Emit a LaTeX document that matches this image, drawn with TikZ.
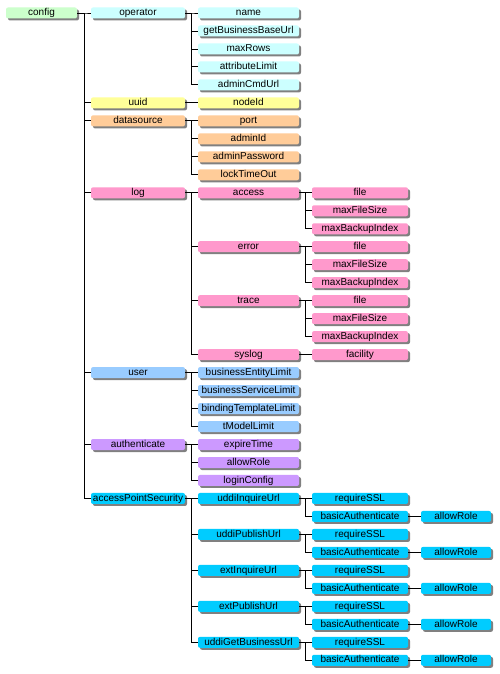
\documentclass[tikz,border=0pt]{standalone}
\usepackage{fontspec}
\setmainfont{Liberation Sans}
\usetikzlibrary{shadows}
\definecolor{cgreen}{HTML}{CCFFCC}
\definecolor{ccyan}{HTML}{CCFFFF}
\definecolor{cyellow}{HTML}{FFFF99}
\definecolor{cpeach}{HTML}{FFCC99}
\definecolor{cpink}{HTML}{FF99CC}
\definecolor{cblue}{HTML}{99CCFF}
\definecolor{clav}{HTML}{CC99FF}
\definecolor{caps}{HTML}{00CCFF}
\tikzset{
  box/.style={rounded corners=2pt, inner sep=0pt, minimum height=11pt,
    text height=7.3pt, text depth=1.9pt, font=\fontsize{10}{11}\selectfont,
    drop shadow={shadow xshift=2pt, shadow yshift=-2pt, fill=black!50, opacity=1}},
  lv0/.style={minimum width=71pt},
  lv1/.style={minimum width=94pt},
  lv2/.style={minimum width=101pt},
  lv3/.style={minimum width=96pt},
  lv4/.style={minimum width=70pt},
  conn/.style={draw=black, line width=0.9pt}
}
\newcommand{\tnode}[5]{\node[box,#4] (#1) at (#3,{13+17.98*(#2)}) {#5};}
\begin{document}
\begin{tikzpicture}[x=1pt,y=-1pt]
\fill[white] (0,0) rectangle (500,674);
\useasboundingbox (0,0) rectangle (500,674);
% level 0
\tnode{c}{0}{41.5}{lv0,fill=cgreen}{config}
% level 1
\tnode{op}{0}{138}{lv1,fill=ccyan}{operator}
\tnode{uu}{5}{138}{lv1,fill=cyellow}{uuid}
\tnode{ds}{6}{138}{lv1,fill=cpeach}{datasource}
\tnode{lg}{10}{138}{lv1,fill=cpink}{log}
\tnode{us}{20}{138}{lv1,fill=cblue}{user}
\tnode{au}{24}{138}{lv1,fill=clav}{authenticate}
\tnode{ap}{27}{138}{lv1,fill=caps}{accessPointSecurity}
% level 2
\tnode{op1}{0}{248.5}{lv2,fill=ccyan}{name}
\tnode{op2}{1}{248.5}{lv2,fill=ccyan}{getBusinessBaseUrl}
\tnode{op3}{2}{248.5}{lv2,fill=ccyan}{maxRows}
\tnode{op4}{3}{248.5}{lv2,fill=ccyan}{attributeLimit}
\tnode{op5}{4}{248.5}{lv2,fill=ccyan}{adminCmdUrl}
\tnode{uu1}{5}{248.5}{lv2,fill=cyellow}{nodeId}
\tnode{ds1}{6}{248.5}{lv2,fill=cpeach}{port}
\tnode{ds2}{7}{248.5}{lv2,fill=cpeach}{adminId}
\tnode{ds3}{8}{248.5}{lv2,fill=cpeach}{adminPassword}
\tnode{ds4}{9}{248.5}{lv2,fill=cpeach}{lockTimeOut}
\tnode{ac}{10}{248.5}{lv2,fill=cpink}{access}
\tnode{er}{13}{248.5}{lv2,fill=cpink}{error}
\tnode{tr}{16}{248.5}{lv2,fill=cpink}{trace}
\tnode{sl}{19}{248.5}{lv2,fill=cpink}{syslog}
\tnode{us1}{20}{248.5}{lv2,fill=cblue}{businessEntityLimit}
\tnode{us2}{21}{248.5}{lv2,fill=cblue}{businessServiceLimit}
\tnode{us3}{22}{248.5}{lv2,fill=cblue}{bindingTemplateLimit}
\tnode{us4}{23}{248.5}{lv2,fill=cblue}{tModelLimit}
\tnode{au1}{24}{248.5}{lv2,fill=clav}{expireTime}
\tnode{au2}{25}{248.5}{lv2,fill=clav}{allowRole}
\tnode{au3}{26}{248.5}{lv2,fill=clav}{loginConfig}
\tnode{a1}{27}{248.5}{lv2,fill=caps}{uddiInquireUrl}
\tnode{a2}{29}{248.5}{lv2,fill=caps}{uddiPublishUrl}
\tnode{a3}{31}{248.5}{lv2,fill=caps}{extInquireUrl}
\tnode{a4}{33}{248.5}{lv2,fill=caps}{extPublishUrl}
\tnode{a5}{35}{248.5}{lv2,fill=caps}{uddiGetBusinessUrl}
% level 3
\tnode{ac1}{10}{360}{lv3,fill=cpink}{file}
\tnode{ac2}{11}{360}{lv3,fill=cpink}{maxFileSize}
\tnode{ac3}{12}{360}{lv3,fill=cpink}{maxBackupIndex}
\tnode{er1}{13}{360}{lv3,fill=cpink}{file}
\tnode{er2}{14}{360}{lv3,fill=cpink}{maxFileSize}
\tnode{er3}{15}{360}{lv3,fill=cpink}{maxBackupIndex}
\tnode{tr1}{16}{360}{lv3,fill=cpink}{file}
\tnode{tr2}{17}{360}{lv3,fill=cpink}{maxFileSize}
\tnode{tr3}{18}{360}{lv3,fill=cpink}{maxBackupIndex}
\tnode{sl1}{19}{360}{lv3,fill=cpink}{facility}
\tnode{a1s}{27}{360}{lv3,fill=caps}{requireSSL}
\tnode{a1b}{28}{360}{lv3,fill=caps}{basicAuthenticate}
\tnode{a2s}{29}{360}{lv3,fill=caps}{requireSSL}
\tnode{a2b}{30}{360}{lv3,fill=caps}{basicAuthenticate}
\tnode{a3s}{31}{360}{lv3,fill=caps}{requireSSL}
\tnode{a3b}{32}{360}{lv3,fill=caps}{basicAuthenticate}
\tnode{a4s}{33}{360}{lv3,fill=caps}{requireSSL}
\tnode{a4b}{34}{360}{lv3,fill=caps}{basicAuthenticate}
\tnode{a5s}{35}{360}{lv3,fill=caps}{requireSSL}
\tnode{a5b}{36}{360}{lv3,fill=caps}{basicAuthenticate}
% level 4
\tnode{a1r}{28}{456}{lv4,fill=caps}{allowRole}
\tnode{a2r}{30}{456}{lv4,fill=caps}{allowRole}
\tnode{a3r}{32}{456}{lv4,fill=caps}{allowRole}
\tnode{a4r}{34}{456}{lv4,fill=caps}{allowRole}
\tnode{a5r}{36}{456}{lv4,fill=caps}{allowRole}
% connectors
\foreach \p/\q in {c/op,c/uu,c/ds,c/lg,c/us,c/au,c/ap,
  op/op1,op/op2,op/op3,op/op4,op/op5,uu/uu1,
  ds/ds1,ds/ds2,ds/ds3,ds/ds4,
  lg/ac,lg/er,lg/tr,lg/sl,
  us/us1,us/us2,us/us3,us/us4,
  au/au1,au/au2,au/au3,
  ap/a1,ap/a2,ap/a3,ap/a4,ap/a5,
  ac/ac1,ac/ac2,ac/ac3,er/er1,er/er2,er/er3,tr/tr1,tr/tr2,tr/tr3,sl/sl1,
  a1/a1s,a1/a1b,a2/a2s,a2/a2b,a3/a3s,a3/a3b,a4/a4s,a4/a4b,a5/a5s,a5/a5b,
  a1b/a1r,a2b/a2r,a3b/a3r,a4b/a4r,a5b/a5r}
  \draw[conn] (\p.east) -| ([xshift=-6.5pt]\q.west) -- (\q.west);
\end{tikzpicture}
\end{document}
